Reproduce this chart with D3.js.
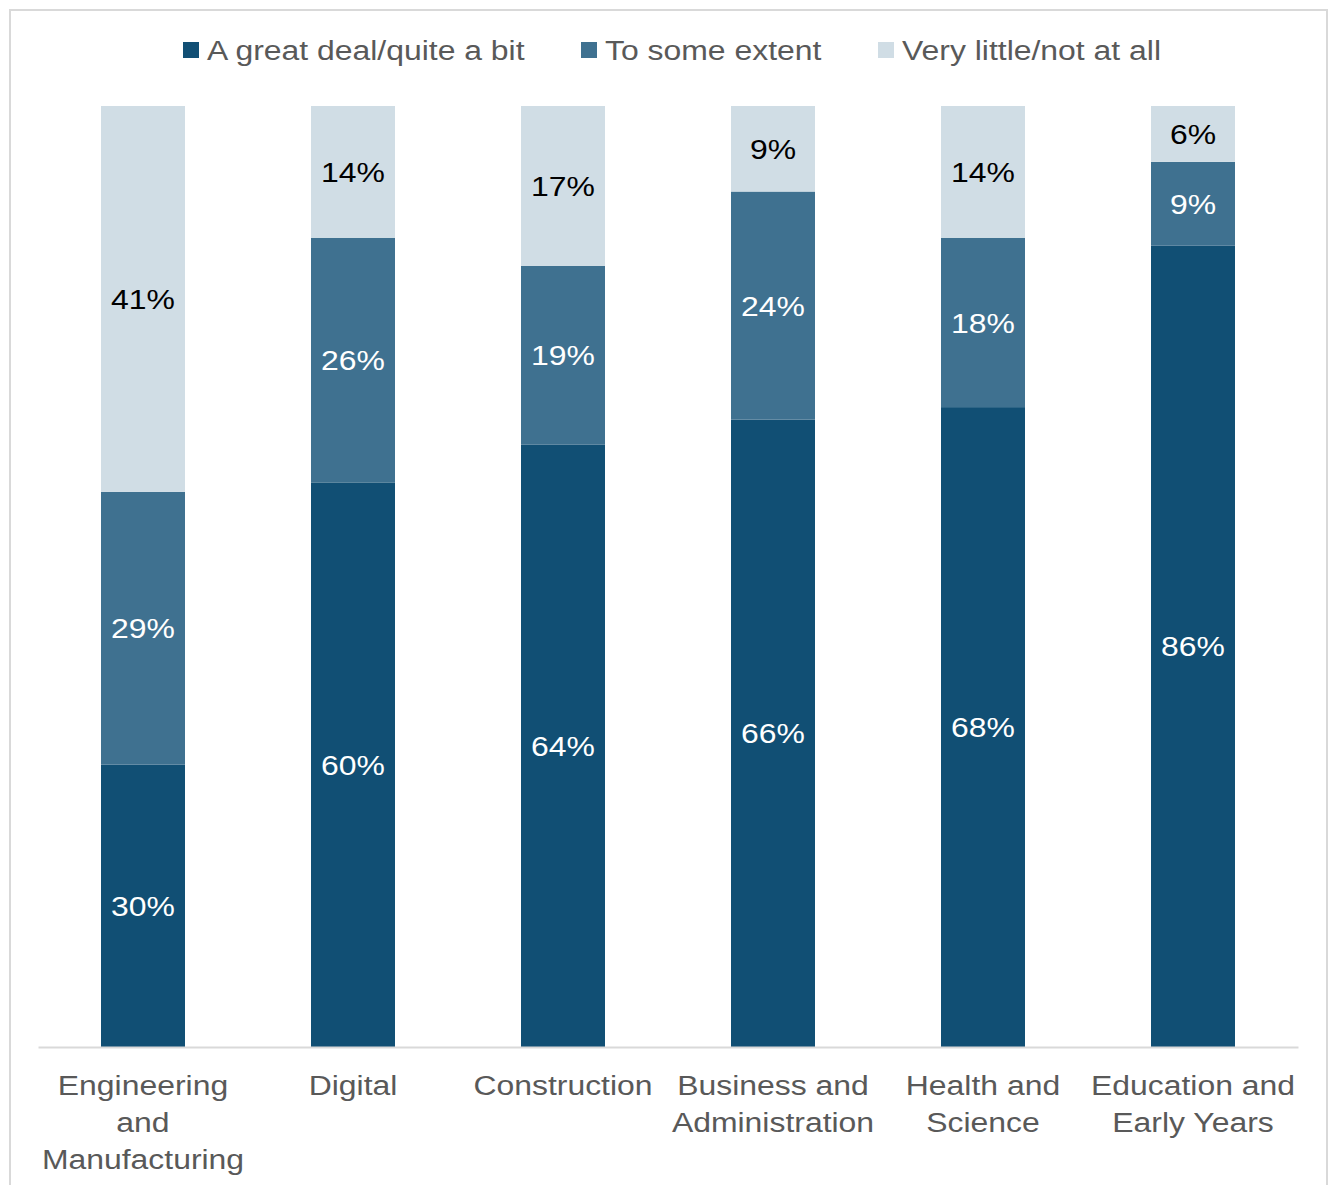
<!DOCTYPE html>
<html>
<head>
<meta charset="utf-8">
<script src="https://cdn.jsdelivr.net/npm/d3@7"></script>
<style>
  html, body { margin: 0; padding: 0; background: #fff; }
  svg { display: block; font-family: Arial, "Liberation Sans", sans-serif; }
</style>
</head>
<body>
<svg id="chart" width="1330" height="1185"></svg>
<script>
// Sector categories (multi-line labels)
const categories = [
  ["Engineering", "and", "Manufacturing"],
  ["Digital"],
  ["Construction"],
  ["Business and", "Administration"],
  ["Health and", "Science"],
  ["Education and", "Early Years"]
];
const seriesNames = ["A great deal/quite a bit", "To some extent", "Very little/not at all"];
const greatDeal   = [30, 60, 64, 66, 68, 86];
const someExtent  = [29, 26, 19, 24, 18, 9];
const veryLittle  = [41, 14, 17, 9, 14, 6];
const seriesColors = ["#114f74", "#3f7190", "#d0dde5"];
const labelColors  = ["#ffffff", "#ffffff", "#000000"];

// Text is set slightly wide
const TEXT_STRETCH = 1.14;

const svg = d3.select("#chart");

// Outer frame
svg.append("rect")
  .attr("x", 10).attr("y", 10).attr("width", 1317).attr("height", 1185)
  .attr("fill", "#fff").attr("stroke", "#d9d9d9").attr("stroke-width", 2);

const keys = ["a", "b", "c"];
const rows = categories.map((c, i) => ({
  cat: c.join(" "), a: greatDeal[i], b: someExtent[i], c: veryLittle[i]
}));

const stack = d3.stack().keys(keys).offset(d3.stackOffsetExpand);
const layers = stack(rows);

const x = d3.scaleBand()
  .domain(rows.map(r => r.cat))
  .range([38, 1298])
  .paddingInner(0.6)
  .paddingOuter(0.3);

const y = d3.scaleLinear().domain([0, 1]).range([1047, 106]);

function stretched(sel, px, py) {
  return sel.append("g")
    .attr("transform", `translate(${px},${py}) scale(${TEXT_STRETCH},1)`)
    .append("text");
}

const g = svg.append("g");
layers.forEach((layer, li) => {
  const lg = g.append("g");
  lg.selectAll("rect")
    .data(layer)
    .join("rect")
    .attr("x", d => x(d.data.cat))
    .attr("width", x.bandwidth())
    .attr("y", d => y(d[1]))
    .attr("height", d => y(d[0]) - y(d[1]))
    .attr("fill", seriesColors[li]);
  layer.forEach(d => {
    stretched(lg, x(d.data.cat) + x.bandwidth() / 2, (y(d[0]) + y(d[1])) / 2)
      .attr("dy", "0.36em")
      .attr("text-anchor", "middle")
      .attr("font-size", 28)
      .attr("fill", labelColors[li])
      .text(d.data[keys[li]] + "%");
  });
});

// Category axis
const axis = d3.axisBottom(x).tickSize(0).tickFormat("");
const ax = svg.append("g").attr("transform", "translate(0,1047)").call(axis);
ax.select(".domain").attr("stroke", "#d9d9d9").attr("stroke-width", 2);

const catLabels = svg.append("g");
categories.forEach((lines, i) => {
  const cx = x(rows[i].cat) + x.bandwidth() / 2;
  lines.forEach((ln, j) => {
    stretched(catLabels, cx, 1095 + j * 37)
      .attr("text-anchor", "middle")
      .attr("font-size", 28)
      .attr("fill", "#595959")
      .text(ln);
  });
});

// Legend
const legendX = [183, 581, 878];
const legend = svg.append("g");
seriesNames.forEach((name, i) => {
  legend.append("rect")
    .attr("x", legendX[i]).attr("y", 42).attr("width", 16).attr("height", 16)
    .attr("fill", seriesColors[i]);
  stretched(legend, legendX[i] + 24, 50)
    .attr("dy", "0.36em")
    .attr("font-size", 28).attr("fill", "#595959")
    .text(name);
});
</script>
</body>
</html>
